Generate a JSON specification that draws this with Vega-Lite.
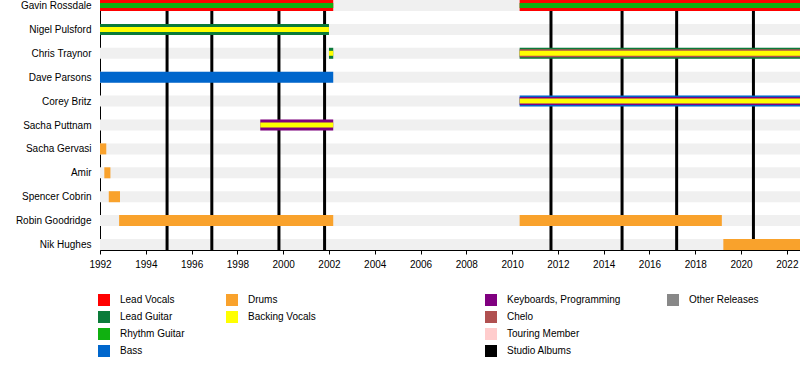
{
  "$schema": "https://vega.github.io/schema/vega-lite/v6.json",
  "width": 700,
  "height": 250,
  "autosize": {"type": "none"},
  "padding": {"left": 100, "top": 0, "right": 0, "bottom": 120},
  "background": "white",
  "config": {
    "font": "Liberation Sans",
    "view": {"stroke": null},
    "axis": {"labelFont": "Liberation Sans", "labelFontSize": 10, "labelColor": "#000", "domainColor": "#000", "domainWidth": 1, "tickColor": "#000", "grid": false},
    "axisX": {"tickSize": 4, "labelPadding": 5, "labelFlush": false, "labelOverlap": false},
    "axisY": {"ticks": false, "labelPadding": 9},
    "legend": {"labelFont": "Liberation Sans", "labelFontSize": 10, "labelColor": "#000"}
  },
  "datasets": {
    "members": [
      {"member": "Gavin Rossdale"}, {"member": "Nigel Pulsford"}, {"member": "Chris Traynor"},
      {"member": "Dave Parsons"}, {"member": "Corey Britz"}, {"member": "Sacha Puttnam"},
      {"member": "Sacha Gervasi"}, {"member": "Amir"}, {"member": "Spencer Cobrin"},
      {"member": "Robin Goodridge"}, {"member": "Nik Hughes"}
    ],
    "roles": [
      {"member": "Gavin Rossdale", "role": "Lead Vocals", "level": "main", "start": "1992-01-01", "end": "2002-03-10"},
      {"member": "Gavin Rossdale", "role": "Rhythm Guitar", "level": "inner", "start": "1992-01-01", "end": "2002-03-10"},
      {"member": "Gavin Rossdale", "role": "Lead Vocals", "level": "main", "start": "2010-05-01", "end": "2022-07-30"},
      {"member": "Gavin Rossdale", "role": "Rhythm Guitar", "level": "inner", "start": "2010-05-01", "end": "2022-07-30"},
      {"member": "Nigel Pulsford", "role": "Lead Guitar", "level": "main", "start": "1992-01-01", "end": "2002-01-01"},
      {"member": "Nigel Pulsford", "role": "Backing Vocals", "level": "inner", "start": "1992-01-01", "end": "2002-01-01"},
      {"member": "Chris Traynor", "role": "Lead Guitar", "level": "main", "start": "2002-01-01", "end": "2002-03-10"},
      {"member": "Chris Traynor", "role": "Backing Vocals", "level": "inner", "start": "2002-01-01", "end": "2002-03-10"},
      {"member": "Chris Traynor", "role": "Lead Guitar", "level": "main", "start": "2010-05-01", "end": "2022-07-30"},
      {"member": "Chris Traynor", "role": "Chelo", "level": "middle", "start": "2010-05-01", "end": "2022-07-30"},
      {"member": "Chris Traynor", "role": "Backing Vocals", "level": "inner", "start": "2010-05-01", "end": "2022-07-30"},
      {"member": "Dave Parsons", "role": "Bass", "level": "main", "start": "1992-01-01", "end": "2002-03-10"},
      {"member": "Corey Britz", "role": "Bass", "level": "main", "start": "2010-05-01", "end": "2022-07-30"},
      {"member": "Corey Britz", "role": "Keyboards, Programming", "level": "middle", "start": "2010-05-01", "end": "2022-07-30"},
      {"member": "Corey Britz", "role": "Backing Vocals", "level": "inner", "start": "2010-05-01", "end": "2022-07-30"},
      {"member": "Sacha Puttnam", "role": "Keyboards, Programming", "level": "main", "start": "1999-01-01", "end": "2002-03-10"},
      {"member": "Sacha Puttnam", "role": "Backing Vocals", "level": "inner", "start": "1999-01-01", "end": "2002-03-10"},
      {"member": "Sacha Gervasi", "role": "Drums", "level": "main", "start": "1992-01-01", "end": "1992-04-10"},
      {"member": "Amir", "role": "Drums", "level": "main", "start": "1992-03-10", "end": "1992-06-15"},
      {"member": "Spencer Cobrin", "role": "Drums", "level": "main", "start": "1992-05-20", "end": "1992-11-15"},
      {"member": "Robin Goodridge", "role": "Drums", "level": "main", "start": "1992-11-01", "end": "2002-03-10"},
      {"member": "Robin Goodridge", "role": "Drums", "level": "main", "start": "2010-05-01", "end": "2019-03-01"},
      {"member": "Nik Hughes", "role": "Drums", "level": "main", "start": "2019-03-25", "end": "2022-07-30"}
    ],
    "albums": [
      {"album": "Sixteen Stone", "type": "Studio Albums", "date": "1994-12-06"},
      {"album": "Razorblade Suitcase", "type": "Studio Albums", "date": "1996-11-19"},
      {"album": "The Science of Things", "type": "Studio Albums", "date": "1999-10-26"},
      {"album": "Golden State", "type": "Studio Albums", "date": "2001-10-23"},
      {"album": "The Sea of Memories", "type": "Studio Albums", "date": "2011-09-13"},
      {"album": "Man on the Run", "type": "Studio Albums", "date": "2014-10-21"},
      {"album": "Black and White Rainbows", "type": "Studio Albums", "date": "2017-03-10"},
      {"album": "The Kingdom", "type": "Studio Albums", "date": "2020-07-17"}
    ]
  },
  "resolve": {"scale": {"color": "independent"}, "legend": {"color": "independent"}},
  "layer": [
    {
      "data": {"name": "members"},
      "mark": {"type": "bar", "size": 11, "color": "#f0f0f0"},
      "encoding": {
        "y": {"field": "member", "type": "nominal", "title": null, "sort": null,
              "scale": {"type": "point", "padding": 0.23, "domain": ["Gavin Rossdale", "Nigel Pulsford", "Chris Traynor", "Dave Parsons", "Corey Britz", "Sacha Puttnam", "Sacha Gervasi", "Amir", "Spencer Cobrin", "Robin Goodridge", "Nik Hughes"]}},
        "x": {"datum": {"year": 1992, "month": 1, "date": 1, "utc": true}, "type": "temporal", "title": null,
              "scale": {"type": "utc", "domain": [{"year": 1992, "month": 1, "date": 1, "utc": true}, {"year": 2022, "month": 7, "date": 30, "utc": true}]},
              "axis": {"values": [
                {"year": 1992, "utc": true}, {"year": 1993, "utc": true}, {"year": 1994, "utc": true}, {"year": 1995, "utc": true},
                {"year": 1996, "utc": true}, {"year": 1997, "utc": true}, {"year": 1998, "utc": true}, {"year": 1999, "utc": true},
                {"year": 2000, "utc": true}, {"year": 2001, "utc": true}, {"year": 2002, "utc": true}, {"year": 2003, "utc": true},
                {"year": 2004, "utc": true}, {"year": 2005, "utc": true}, {"year": 2006, "utc": true}, {"year": 2007, "utc": true},
                {"year": 2008, "utc": true}, {"year": 2009, "utc": true}, {"year": 2010, "utc": true}, {"year": 2011, "utc": true},
                {"year": 2012, "utc": true}, {"year": 2013, "utc": true}, {"year": 2014, "utc": true}, {"year": 2015, "utc": true},
                {"year": 2016, "utc": true}, {"year": 2017, "utc": true}, {"year": 2018, "utc": true}, {"year": 2019, "utc": true},
                {"year": 2020, "utc": true}, {"year": 2021, "utc": true}, {"year": 2022, "utc": true}],
                "labelExpr": "utcyear(datum.value) % 2 == 0 ? utcFormat(datum.value, '%Y') : ''"}},
        "x2": {"datum": {"year": 2022, "month": 7, "date": 30, "utc": true}}
      }
    },
    {
      "data": {"name": "albums"},
      "mark": {"type": "rule", "strokeWidth": 3},
      "encoding": {
        "x": {"field": "date", "type": "temporal", "title": null, "scale": {"type": "utc"}},
        "color": {"field": "type", "type": "nominal", "legend": null,
                  "scale": {"domain": ["Keyboards, Programming", "Chelo", "Touring Member", "Studio Albums", "Other Releases", " ", "  ", "   "],
                            "range": ["#800080", "#b05050", "#ffcccc", "#000000", "#888888", "rgba(0,0,0,0)", "rgba(0,0,0,0)", "rgba(0,0,0,0)"]}}
      }
    },
    {
      "data": {"name": "roles"},
      "transform": [{"filter": "datum.level === 'main' && datum.role !== 'Keyboards, Programming'"}],
      "mark": {"type": "bar", "size": 11},
      "encoding": {
        "y": {"field": "member", "type": "nominal", "title": null, "sort": null},
        "x": {"field": "start", "type": "temporal", "title": null, "scale": {"type": "utc"}},
        "x2": {"field": "end"},
        "color": {"field": "role", "type": "nominal",
                  "scale": {"domain": ["Lead Vocals", "Lead Guitar", "Rhythm Guitar", "Bass", "Drums", "Backing Vocals", " ", "  "],
                            "range": ["#ff0000", "#0b7b3a", "#10b010", "#0066cc", "#f9a22c", "#ffff00", "rgba(0,0,0,0)", "rgba(0,0,0,0)"]},
                  "legend": {"title": null, "orient": "none", "legendX": -2, "legendY": 294, "direction": "vertical", "columns": 2,
                             "columnPadding": 41, "rowPadding": 5, "symbolType": "square", "symbolSize": 144, "symbolStrokeWidth": 0,
                             "labelOffset": 10, "labelFontSize": 10, "labelFont": "Liberation Sans", "labelColor": "#000"}}
      }
    },
    {
      "data": {"name": "roles"},
      "transform": [{"filter": "datum.level === 'main' && datum.role === 'Keyboards, Programming'"}],
      "mark": {"type": "bar", "size": 11},
      "encoding": {
        "y": {"field": "member", "type": "nominal", "title": null, "sort": null},
        "x": {"field": "start", "type": "temporal", "title": null, "scale": {"type": "utc"}},
        "x2": {"field": "end"},
        "color": {"field": "role", "type": "nominal", "legend": null,
                  "scale": {"domain": ["Keyboards, Programming", "Chelo", "Touring Member", "Studio Albums", "Other Releases", " ", "  ", "   "],
                            "range": ["#800080", "#b05050", "#ffcccc", "#000000", "#888888", "rgba(0,0,0,0)", "rgba(0,0,0,0)", "rgba(0,0,0,0)"]}}
      }
    },
    {
      "data": {"name": "roles"},
      "transform": [{"filter": "datum.level === 'middle'"}],
      "mark": {"type": "bar", "size": 8},
      "encoding": {
        "y": {"field": "member", "type": "nominal", "title": null, "sort": null},
        "x": {"field": "start", "type": "temporal", "title": null, "scale": {"type": "utc"}},
        "x2": {"field": "end"},
        "color": {"field": "role", "type": "nominal",
                  "scale": {"domain": ["Keyboards, Programming", "Chelo", "Touring Member", "Studio Albums", "Other Releases", " ", "  ", "   "],
                            "range": ["#800080", "#b05050", "#ffcccc", "#000000", "#888888", "rgba(0,0,0,0)", "rgba(0,0,0,0)", "rgba(0,0,0,0)"]},
                  "legend": {"title": null, "orient": "none", "legendX": 385, "legendY": 294, "direction": "vertical", "columns": 2,
                             "columnPadding": 46, "rowPadding": 5, "symbolType": "square", "symbolSize": 144, "symbolStrokeWidth": 0,
                             "labelOffset": 10, "labelFontSize": 10, "labelFont": "Liberation Sans", "labelColor": "#000"}}
      }
    },
    {
      "data": {"name": "roles"},
      "transform": [{"filter": "datum.level === 'inner'"}],
      "mark": {"type": "bar", "size": 5},
      "encoding": {
        "y": {"field": "member", "type": "nominal", "title": null, "sort": null},
        "x": {"field": "start", "type": "temporal", "title": null, "scale": {"type": "utc"}},
        "x2": {"field": "end"},
        "color": {"field": "role", "type": "nominal", "legend": null,
                  "scale": {"domain": ["Lead Vocals", "Lead Guitar", "Rhythm Guitar", "Bass", "Drums", "Backing Vocals", " ", "  "],
                            "range": ["#ff0000", "#0b7b3a", "#10b010", "#0066cc", "#f9a22c", "#ffff00", "rgba(0,0,0,0)", "rgba(0,0,0,0)"]}}
      }
    }
  ]
}
